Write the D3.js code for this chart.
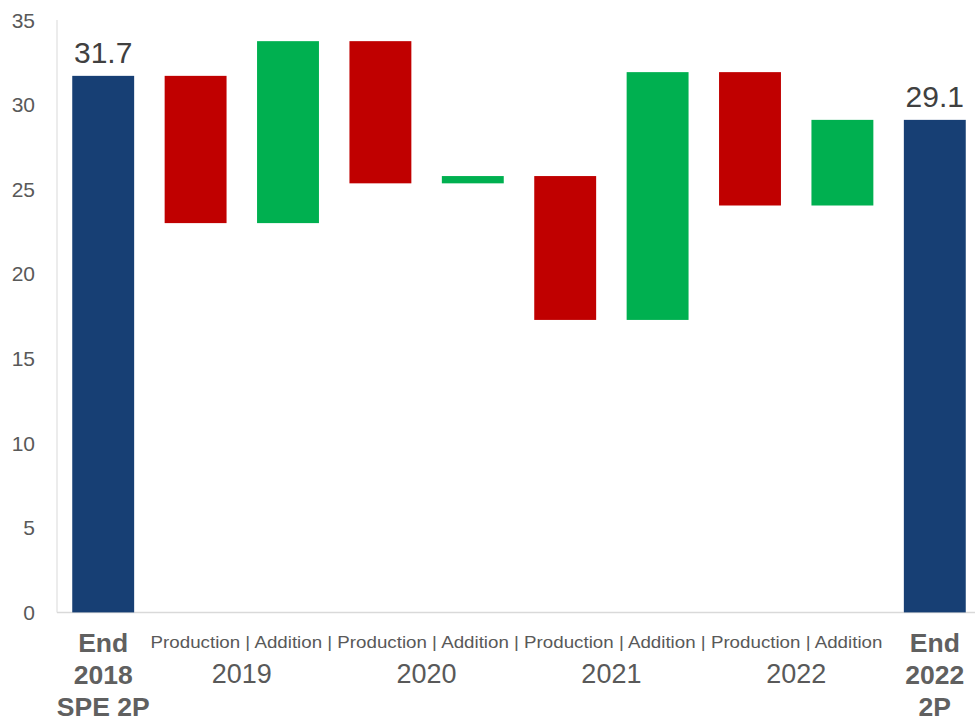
<!DOCTYPE html>
<html><head><meta charset="utf-8">
<script src="https://cdn.jsdelivr.net/npm/d3@7"></script>
<style>body{margin:0;background:#fff;} text{font-family:"Liberation Sans",Arial,sans-serif;}</style>
</head><body><svg id="c" width="975" height="722"></svg>
<script>
const categories = ["End 2018 SPE 2P","Production 2019","Addition 2019","Production 2020","Addition 2020","Production 2021","Addition 2021","Production 2022","Addition 2022","End 2022 2P"];
const barLabels = ["", "Production","Addition","Production","Addition","Production","Addition","Production","Addition",""];
const endLabels = [["End","2018","SPE 2P"], ["End","2022","2P"]];
const years = ["2019","2020","2021","2022"];
const startValue = 31.7;
const deltas = [-8.7, 10.75, -8.4, 0.43, -8.5, 14.64, -7.88, 5.06];
const endValue = 29.1;
const yTicks = [0,5,10,15,20,25,30,35];

const colors = {total:"#173F74", neg:"#C00000", pos:"#00B050"};

const rows = [];
rows.push({cat:categories[0], y0:0, y1:startValue, type:"total", label:startValue.toFixed(1)});
let cum = startValue;
deltas.forEach((d,i)=>{
  const s = cum; cum = cum + d;
  rows.push({cat:categories[i+1], y0:s, y1:cum, type:d<0?"neg":"pos"});
});
rows.push({cat:categories[9], y0:0, y1:endValue, type:"total", label:endValue.toFixed(1)});

const svg = d3.select("#c");
const x = d3.scaleBand().domain(categories).range([57, 981]).paddingInner(0.33).paddingOuter(0.165);
const y = d3.scaleLinear().domain([0,35]).range([612.4, 20]);

svg.append("line").attr("x1",57).attr("x2",57).attr("y1",y(35)).attr("y2",y(0)).attr("stroke","#e6e6e6").attr("stroke-width",1.5);
svg.append("line").attr("x1",57).attr("x2",975).attr("y1",y(0)).attr("y2",y(0)).attr("stroke","#d9d9d9").attr("stroke-width",1.5);

svg.append("g").selectAll("text").data(yTicks).join("text")
  .attr("x",35).attr("y",d=>y(d)).attr("dy","0.36em").attr("text-anchor","end")
  .attr("font-size",21).attr("fill","#595959").text(d=>d);

svg.append("g").selectAll("rect").data(rows).join("rect")
  .attr("x",d=>x(d.cat)).attr("width",x.bandwidth())
  .attr("y",d=>y(Math.max(d.y0,d.y1))).attr("height",d=>Math.abs(y(d.y0)-y(d.y1)))
  .attr("fill",d=>colors[d.type]);

svg.append("g").selectAll("text").data(rows.filter(d=>d.label)).join("text")
  .attr("x",d=>x(d.cat)+x.bandwidth()/2).attr("y",d=>y(d.y1)-13)
  .attr("text-anchor","middle").attr("font-size",30).attr("fill","#404040").text(d=>d.label);

const cx = c => x(c)+x.bandwidth()/2;
// small category labels as one continuous line spanning the flow bars
const flow = barLabels.filter(d=>d);
const first = cx(categories[1]) - 45, last = cx(categories[8]) + 40;
svg.append("text").attr("x",first).attr("y",648)
  .attr("font-size",17).attr("fill","#595959")
  .attr("textLength",last-first).attr("lengthAdjust","spacingAndGlyphs")
  .text(flow.join(" | "));

svg.append("g").selectAll("text").data(years).join("text")
  .attr("x",(d,i)=>(cx(categories[1+2*i])+cx(categories[2+2*i]))/2).attr("y",683)
  .attr("text-anchor","middle").attr("font-size",27).attr("fill","#595959").text(d=>d);

[[0,endLabels[0]],[9,endLabels[1]]].forEach(([i,lines])=>{
  const t = svg.append("text").attr("text-anchor","middle").attr("font-size",26.5).attr("font-weight","bold").attr("fill","#606060");
  lines.forEach((l,k)=>t.append("tspan").attr("x",cx(categories[i])).attr("y",652+k*32).text(l));
});
</script></body></html>
